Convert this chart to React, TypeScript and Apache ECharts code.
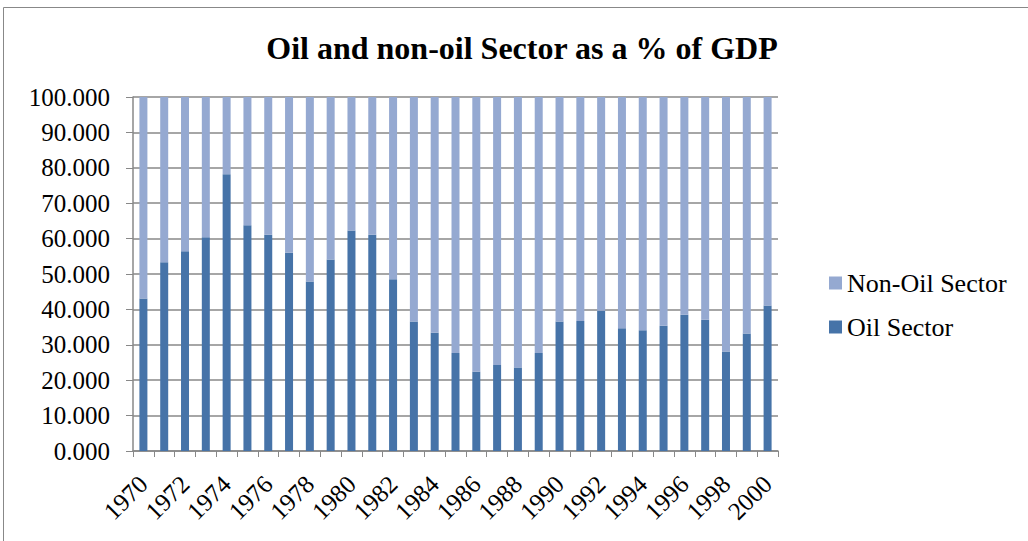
import React, { useEffect, useRef } from "react";
import * as echarts from "echarts";

const years = Array.from({ length: 31 }, (_, i) => String(1970 + i));
const oilSector = [
  43.1, 53.3, 56.4, 60.4, 78.2, 63.8, 61.1, 56.0, 47.9, 54.1, 62.3, 61.1, 48.5, 36.6, 33.4, 27.7,
  22.4, 24.3, 23.6, 27.7, 36.6, 36.7, 39.6, 34.7, 34.1, 35.4, 38.5, 37.1, 28.1, 33.2, 41.1,
];
const nonOilSector = oilSector.map((v) => +(100 - v).toFixed(1));

export default function App() {
  const ref = useRef<HTMLDivElement>(null);
  useEffect(() => {
    const chart = echarts.init(ref.current!, null, { renderer: "svg" });
    const font = "Liberation Serif";
    chart.setOption({
      animation: false,
      backgroundColor: "#fff",
      title: {
        text: "Oil and non-oil Sector as a % of GDP",
        left: 517,
        textAlign: "center",
        top: 27,
        textStyle: { fontFamily: font, fontSize: 32, fontWeight: "bold", color: "#000" },
      },
      graphic: [
        {
          type: "rect",
          shape: { x: 3.5, y: 7.5, width: 1030, height: 540 },
          style: { fill: "none", stroke: "#888", lineWidth: 1 },
          silent: true,
        },
      ],
      legend: {
        orient: "vertical",
        left: 824,
        top: 265,
        itemWidth: 13,
        itemHeight: 13,
        itemGap: 18,
        icon: "rect",
        data: ["Non-Oil Sector", "Oil Sector"],
        textStyle: { fontFamily: font, fontSize: 26, color: "#000" },
      },
      grid: { left: 133, right: 250, top: 97, bottom: 90, containLabel: false },
      xAxis: {
        type: "category",
        data: years,
        boundaryGap: true,
        axisLine: { lineStyle: { color: "#888", width: 1.5 } },
        axisTick: { show: true, interval: 0, length: 6, lineStyle: { color: "#888" } },
        axisLabel: {
          interval: 1,
          rotate: 45,
          fontFamily: font,
          fontSize: 25,
          color: "#000",
          margin: 29,
        },
      },
      yAxis: {
        type: "value",
        min: 0,
        max: 100,
        interval: 10,
        axisLine: { show: true, lineStyle: { color: "#888", width: 1.5 } },
        axisTick: { show: true, length: 7, lineStyle: { color: "#888" } },
        splitLine: { lineStyle: { color: "#888", width: 1.5 } },
        axisLabel: {
          fontFamily: font,
          fontSize: 25,
          color: "#000",
          margin: 23,
          formatter: (v: number) => v.toFixed(3),
        },
      },
      series: [
        {
          name: "Oil Sector",
          type: "bar",
          stack: "total",
          barWidth: 8,
          data: oilSector,
          itemStyle: { color: "#4673A8" },
        },
        {
          name: "Non-Oil Sector",
          type: "bar",
          stack: "total",
          barWidth: 8,
          data: nonOilSector,
          itemStyle: { color: "#95A9D1" },
        },
      ],
    });
    return () => chart.dispose();
  }, []);
  return (
    <div
      ref={ref}
      style={{ position: "absolute", left: 0, top: 0, width: 1028, height: 541 }}
    />
  );
}
